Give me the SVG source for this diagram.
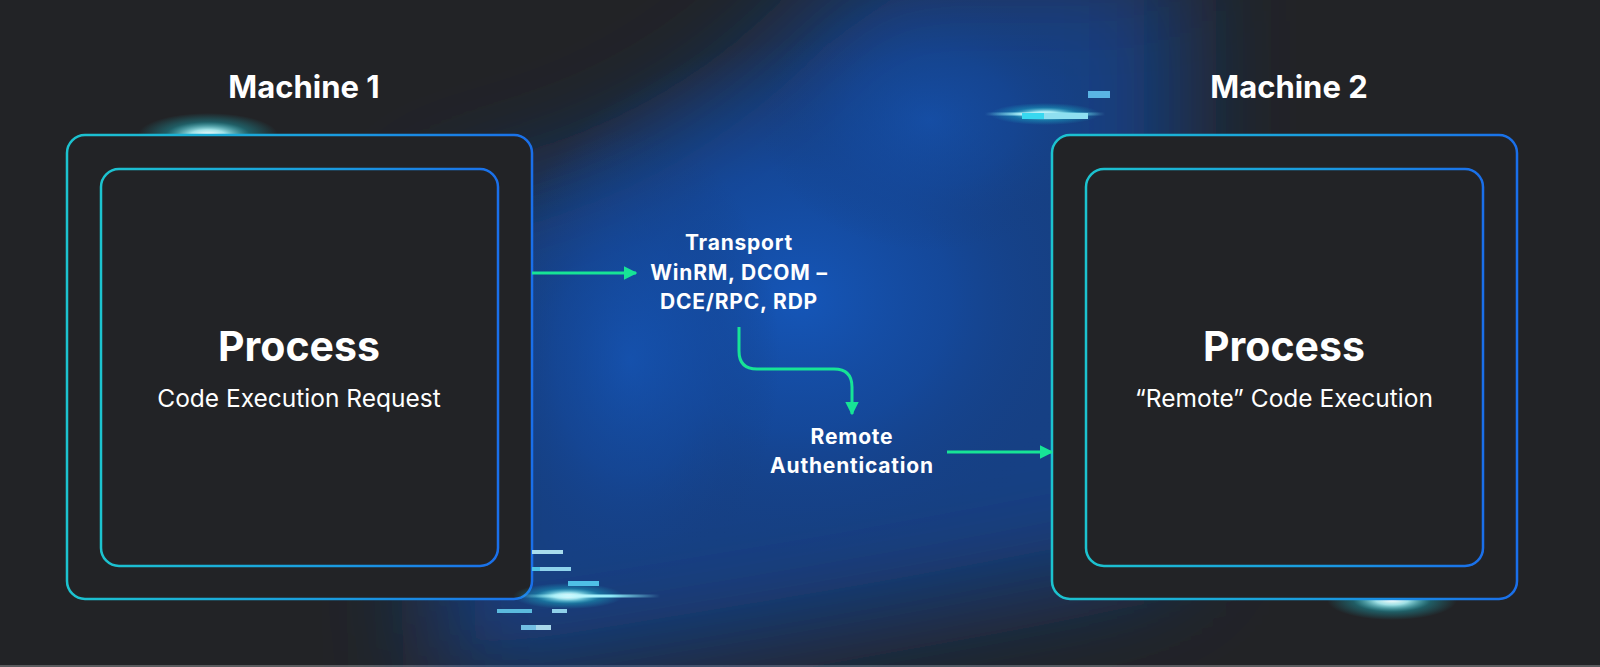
<svg xmlns="http://www.w3.org/2000/svg" width="1600" height="667" viewBox="0 0 1600 667">
<defs>
<style>
.h{font-family:Inter,"Noto Sans",sans-serif;font-weight:700;fill:#fff;text-anchor:middle}
.s{font-size:21px;letter-spacing:0.8px}
.b{font-family:Inter,"Noto Sans",sans-serif;font-weight:400;fill:#fff;text-anchor:middle}
.box{fill:#222326;stroke-width:2.5}
.con{fill:none;stroke:#17e496;stroke-width:3}
</style>
<linearGradient id="g1" x1="0" y1="0" x2="1" y2="0">
<stop offset="0" stop-color="#1cc3cf"/><stop offset="0.6" stop-color="#1a9ae0"/><stop offset="1" stop-color="#1a6fea"/>
</linearGradient>
<radialGradient id="core">
<stop offset="0" stop-color="#ffffff" stop-opacity="1"/><stop offset="0.25" stop-color="#aef5fa" stop-opacity="0.9"/><stop offset="0.6" stop-color="#1cc8d8" stop-opacity="0.35"/><stop offset="1" stop-color="#1cc8d8" stop-opacity="0"/>
</radialGradient>
<radialGradient id="blue" cx="0.5" cy="0.5" r="0.5">
<stop offset="0" stop-color="#1556b8"/><stop offset="0.5" stop-color="#144a9f" stop-opacity="0.8"/><stop offset="1" stop-color="#163e80" stop-opacity="0"/>
</radialGradient>
<filter id="blur" x="-50%" y="-50%" width="200%" height="200%"><feGaussianBlur stdDeviation="55"/></filter>
<linearGradient id="streak" x1="0" y1="0" x2="1" y2="0">
<stop offset="0" stop-color="#7ff0fa" stop-opacity="0"/><stop offset="0.35" stop-color="#c8faff"/><stop offset="0.65" stop-color="#8feaf8"/><stop offset="1" stop-color="#7ff0fa" stop-opacity="0"/>
</linearGradient>
<marker id="ah" viewBox="0 0 10 10" refX="9" refY="5" markerWidth="4.5" markerHeight="4.5" orient="auto" markerUnits="strokeWidth">
<path d="M0 0 L10 5 L0 10 Z" fill="#17e496"/>
</marker>
</defs>
<rect width="1600" height="667" fill="#222326"/>
<rect y="665" width="1600" height="2" fill="#5a5b5e"/>
<g id="glow-bg">
<path d="M430 210 Q700 170 860 -40 L1180 -40 L1180 560 Q900 620 440 690 Z" fill="#163f84" filter="url(#blur)"/>
<ellipse cx="800" cy="300" rx="300" ry="260" fill="url(#blue)"/>
<ellipse cx="630" cy="360" rx="150" ry="230" fill="url(#blue)" opacity="0.7"/>
<ellipse cx="930" cy="120" rx="170" ry="130" fill="url(#blue)" opacity="0.6"/>
</g>
<g id="sparkles">
<ellipse cx="208" cy="135" rx="70" ry="22" fill="url(#core)"/>
<ellipse cx="1392" cy="600" rx="65" ry="20" fill="url(#core)"/>
</g>
<g id="machine1">
<text class="h" x="304" y="98" font-size="31">Machine 1</text>
<rect class="box" x="67" y="135" width="465" height="464" rx="18" stroke="url(#g1)"/>
<g id="process1">
<rect class="box" x="101" y="169" width="397" height="397" rx="18" stroke="url(#g1)"/>
<text class="h" x="299" y="361" font-size="41">Process</text>
<text class="b" x="299" y="407" font-size="24.5">Code Execution Request</text>
</g>
</g>
<g id="machine2">
<text class="h" x="1289" y="98" font-size="31">Machine 2</text>
<rect class="box" x="1052" y="135" width="465" height="464" rx="18" stroke="url(#g1)"/>
<g id="process2">
<rect class="box" x="1086" y="169" width="397" height="397" rx="18" stroke="url(#g1)"/>
<text class="h" x="1284" y="361" font-size="41">Process</text>
<text class="b" x="1284" y="407" font-size="24.5">“Remote” Code Execution</text>
</g>
</g>
<g id="sparkles2">
<ellipse cx="568" cy="596" rx="55" ry="13" fill="url(#core)"/>
<rect x="520" y="594.5" width="140" height="3" fill="url(#streak)"/>
<ellipse cx="1045" cy="114" rx="55" ry="11" fill="url(#core)"/>
<rect x="985" y="112.5" width="120" height="3" fill="url(#streak)"/>
<rect x="532" y="550" width="31" height="4" fill="#a9dcec"/>
<rect x="532" y="567" width="8" height="4" fill="#4fc3e6"/>
<rect x="540" y="567" width="31" height="4" fill="#8fd3ec"/>
<rect x="568" y="581" width="31" height="5" fill="#4fc0e6"/>
<rect x="497" y="609" width="35" height="4" fill="#5bbade"/>
<rect x="552" y="609" width="15" height="4" fill="#8fd0ea"/>
<rect x="521" y="625" width="15" height="5" fill="#72bfe2"/>
<rect x="536" y="625" width="15" height="5" fill="#a8d8ea"/>
<rect x="1088" y="91" width="22" height="7" fill="#5ab4e4"/>
<rect x="1022" y="113" width="22" height="6" fill="#38d8f0"/>
<rect x="1044" y="113" width="44" height="6" fill="#8fdff0"/>
</g>
<g id="transport">
<text class="h s" x="739" y="250">Transport</text>
<text class="h s" x="739" y="280">WinRM, DCOM –</text>
<text class="h s" x="739" y="309">DCE/RPC, RDP</text>
</g>
<g id="auth">
<text class="h s" x="852" y="444">Remote</text>
<text class="h s" x="852" y="473">Authentication</text>
</g>
<g id="connectors">
<path class="con" d="M532 273 L636 273" marker-end="url(#ah)"/>
<path class="con" d="M739 327 L739 351 Q739 369 757 369 L834 369 Q852 369 852 387 L852 414" marker-end="url(#ah)"/>
<path class="con" d="M947 452 L1052 452" marker-end="url(#ah)"/>
</g>
</svg>
